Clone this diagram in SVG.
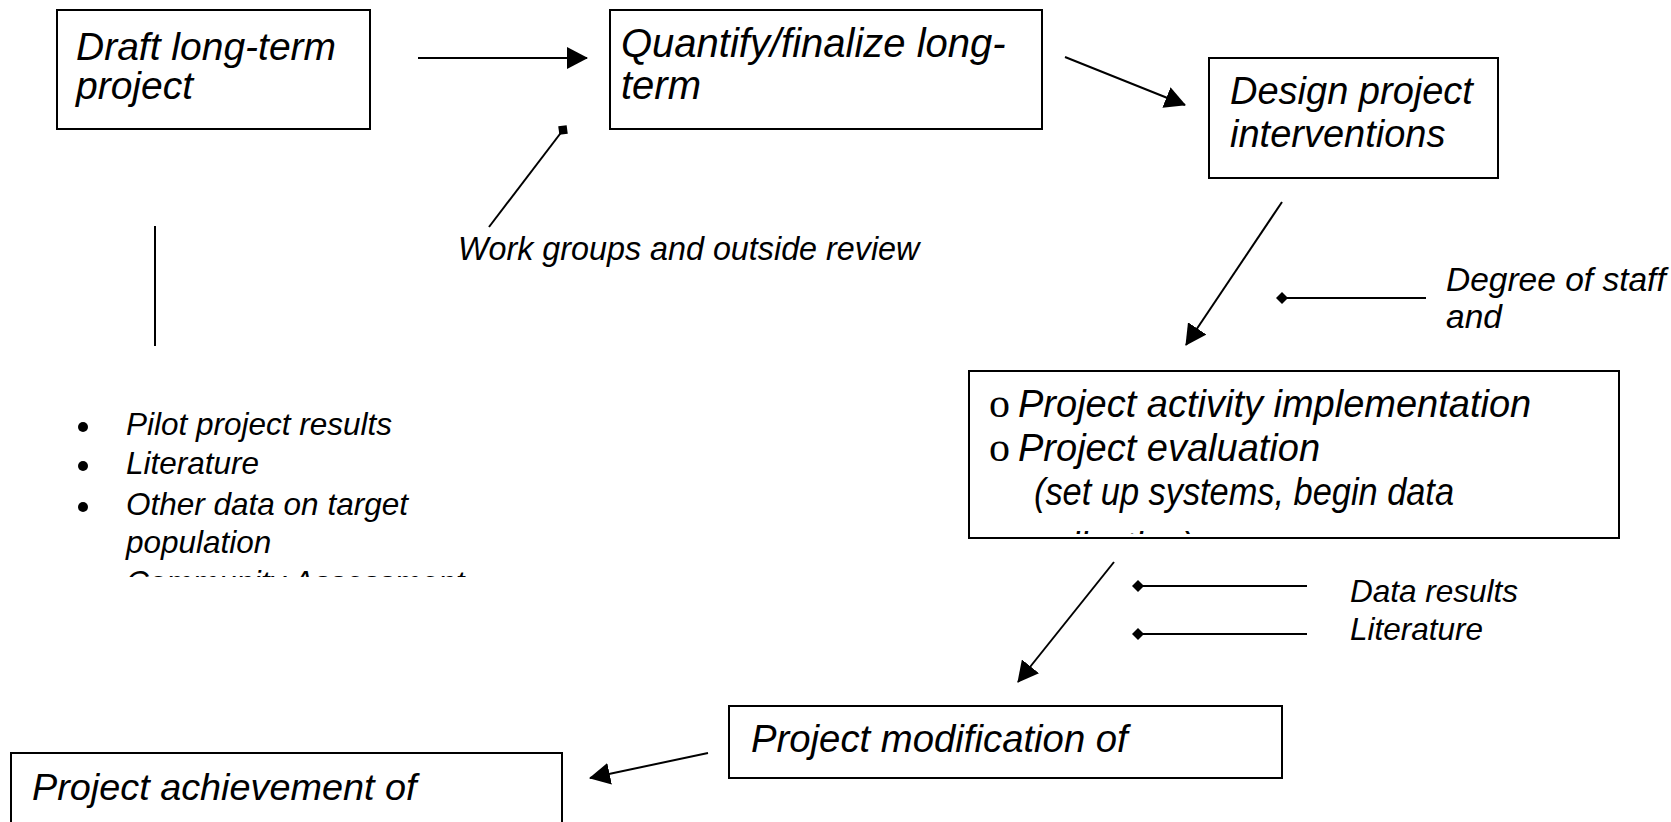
<svg xmlns="http://www.w3.org/2000/svg" width="1671" height="822" viewBox="0 0 1671 822">
<style>
.box{fill:#fff;stroke:#000;stroke-width:2}
.t{font-family:"Liberation Sans",Arial,sans-serif;font-style:italic;fill:#000}
.big{font-size:39px}
.mid{font-size:37.8px}
.sm{font-size:31.5px}
.ob{font-family:"Liberation Serif","Times New Roman",serif;font-style:normal;font-size:42px}
.ln{stroke:#000;stroke-width:2;fill:none}
.arr{marker-end:url(#ah)}
.dia{marker-end:url(#dm)}
</style>
<defs>
<marker id="ah" markerUnits="userSpaceOnUse" markerWidth="21" markerHeight="22" refX="20" refY="11" orient="auto" viewBox="0 0 21 22">
<path d="M0,0 L21,11 L0,22 z" fill="#000"/>
</marker>
<marker id="dm" markerUnits="userSpaceOnUse" markerWidth="12" markerHeight="12" refX="6" refY="6" orient="auto" viewBox="0 0 12 12">
<path d="M0,6 L6,0 L12,6 L6,12 z" fill="#000"/>
</marker>
<clipPath id="c1"><rect x="58" y="11" width="311" height="116"/></clipPath>
<clipPath id="c2"><rect x="611" y="11" width="430" height="116"/></clipPath>
<clipPath id="c4"><rect x="970" y="372" width="648" height="162"/></clipPath>
<clipPath id="c5"><rect x="60" y="390" width="460" height="187"/></clipPath>
<clipPath id="c7"><rect x="12" y="754" width="549" height="68"/></clipPath>
</defs>

<g id="connectors">
<line class="ln arr" x1="418" y1="58" x2="587" y2="58"/>
<line class="ln arr" x1="1065" y1="57" x2="1185" y2="105"/>
<line class="ln dia" x1="489" y1="227" x2="563" y2="130"/>
<line class="ln arr" x1="1282" y1="202" x2="1186" y2="345"/>
<line class="ln dia" x1="1426" y1="298" x2="1282" y2="298"/>
<line class="ln arr" x1="1114" y1="562" x2="1018" y2="682"/>
<line class="ln dia" x1="1307" y1="586" x2="1138" y2="586"/>
<line class="ln dia" x1="1307" y1="634" x2="1138" y2="634"/>
<line class="ln arr" x1="708" y1="753" x2="590" y2="778"/>
<line class="ln" x1="155" y1="226" x2="155" y2="346"/>
</g>

<g id="draft">
<rect class="box" x="57" y="10" width="313" height="119"/>
<g clip-path="url(#c1)">
<text class="t big" x="76" y="60">Draft long-term</text>
<text class="t big" x="76" y="99">project</text>
</g>
</g>

<g id="quantify">
<rect class="box" x="610" y="10" width="432" height="119"/>
<g clip-path="url(#c2)">
<text class="t" style="font-size:40px" x="621" y="57">Quantify/finalize long-</text>
<text class="t" style="font-size:40px" x="621" y="99">term</text>
</g>
</g>

<g id="design">
<rect class="box" x="1209" y="58" width="289" height="120"/>
<text class="t" style="font-size:38px" x="1230" y="104">Design project</text>
<text class="t" style="font-size:38px" x="1230" y="147">interventions</text>
</g>

<g id="work-groups">
<text class="t" style="font-size:32.3px" x="458" y="260">Work groups and outside review</text>
</g>

<g id="degree">
<text class="t" style="font-size:33.5px" x="1446" y="291">Degree of staff</text>
<text class="t" style="font-size:33.5px" x="1446" y="328">and</text>
</g>

<g id="inputs">
<circle cx="83" cy="427" r="5"/>
<circle cx="83" cy="466" r="5"/>
<circle cx="83" cy="507" r="5"/>
<g clip-path="url(#c5)">
<text class="t sm" x="126" y="435">Pilot project results</text>
<text class="t sm" x="126" y="474">Literature</text>
<text class="t sm" x="126" y="515">Other data on target</text>
<text class="t sm" x="126" y="553">population</text>
<text class="t sm" x="126" y="593">Community Assessment</text>
</g>
</g>

<g id="activity">
<rect class="box" x="969" y="371" width="650" height="167"/>
<g clip-path="url(#c4)">
<text class="ob" x="989" y="417">o</text>
<text class="t" style="font-size:38px" x="1018" y="417">Project activity implementation</text>
<text class="ob" x="989" y="461">o</text>
<text class="t" style="font-size:38px" x="1018" y="461">Project evaluation</text>
<text class="t" style="font-size:38px" x="1034" y="505" textLength="420" lengthAdjust="spacingAndGlyphs">(set up systems, begin data</text>
<text class="t" style="font-size:38px" x="1034" y="559" textLength="160" lengthAdjust="spacingAndGlyphs">collection)</text>
</g>
</g>

<g id="data-labels">
<text class="t sm" x="1350" y="602">Data results</text>
<text class="t sm" x="1350" y="640">Literature</text>
</g>

<g id="modification">
<rect class="box" x="729" y="706" width="553" height="72"/>
<text class="t" style="font-size:38.3px" x="751" y="752">Project modification of</text>
</g>

<g id="achievement">
<rect class="box" x="11" y="753" width="551" height="80"/>
<g clip-path="url(#c7)">
<text class="t mid" x="32" y="800">Project achievement of</text>
</g>
</g>
</svg>
